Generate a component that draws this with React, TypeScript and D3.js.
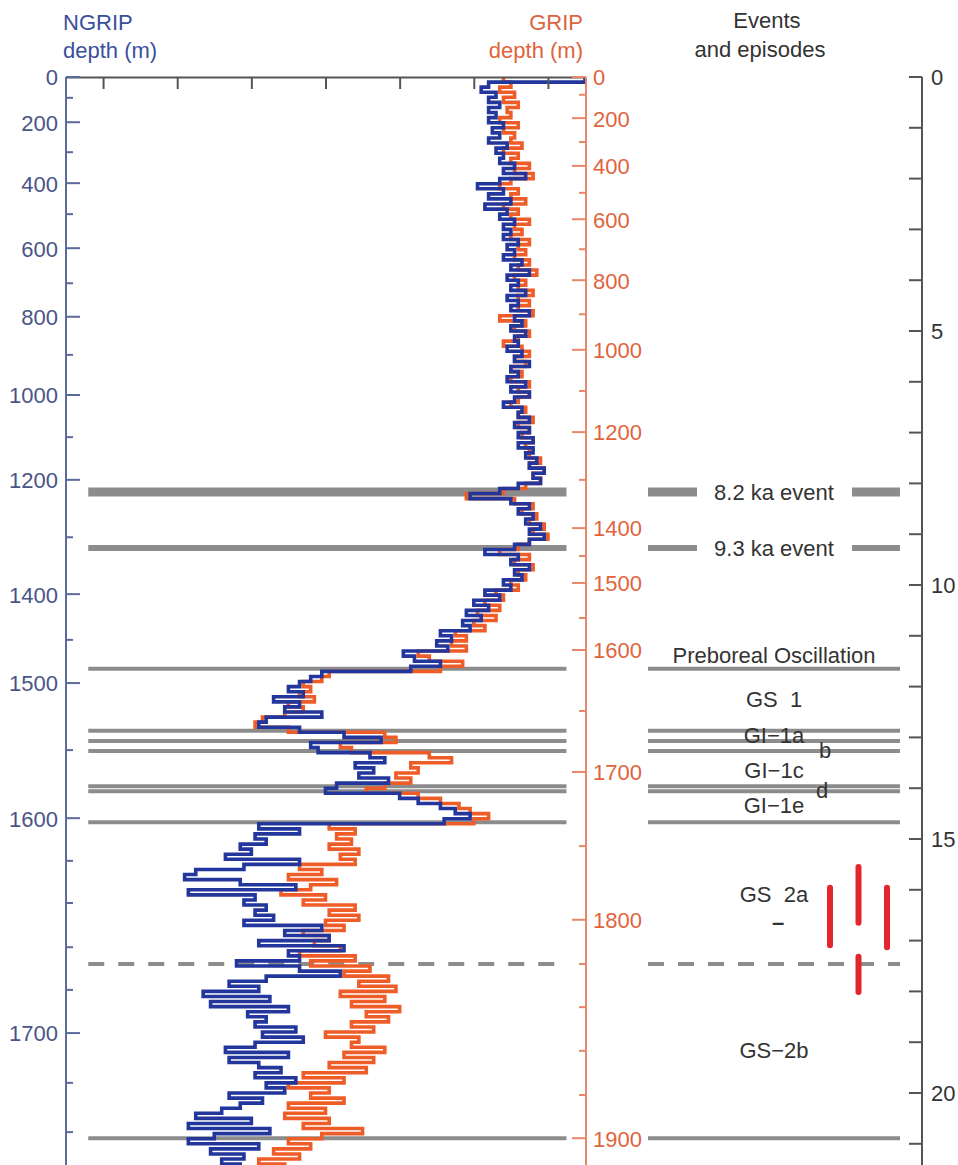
import React, { useEffect, useRef } from "react";
import * as d3 from "d3";

// step width of both records (ka)
const stepKa = 0.1;

// NGRIP d18O (permil), one value per 0.1 ka step from 0 ka
const ngripD18O = [
  -33.0, -35.6, -35.8, -35.4, -35.6, -35.3, -35.6, -35.4, -35.6, -35.2,
  -35.5, -35.3, -35.6, -35.1, -35.4, -35.2, -35.3, -34.9, -35.2, -34.6,
  -35.3, -35.9, -35.2, -35.6, -35.0, -35.7, -35.1, -35.3, -34.9, -35.2,
  -35.0, -35.2, -34.8, -35.1, -34.9, -35.2, -34.7, -35.0, -34.5, -35.1,
  -34.8, -35.0, -34.6, -35.1, -34.8, -35.0, -34.5, -34.9, -34.7, -35.0,
  -34.6, -34.9, -34.8, -35.1, -34.7, -34.9, -34.5, -35.0, -34.8, -35.1,
  -34.6, -35.0, -34.5, -34.9, -35.2, -34.7, -34.8, -34.5, -34.9, -34.5,
  -34.8, -34.4, -34.8, -34.4, -34.6, -34.3, -34.5, -34.1, -34.4, -34.2,
  -34.8, -35.3, -36.1, -35.0, -34.5, -34.8, -34.4, -34.6, -34.2, -34.5,
  -34.1, -34.5, -34.9, -35.7, -34.8, -35.0, -34.5, -34.9, -34.7, -35.2,
  -35.0, -35.7, -35.3, -36.0, -35.6, -36.2, -35.8, -36.3, -36.1, -36.9,
  -36.6, -37.0, -36.7, -37.9, -37.6, -36.9, -37.7, -40.1, -40.4, -40.7,
  -41.0, -40.6, -41.4, -40.7, -41.1, -40.1, -41.6, -41.8, -40.7, -39.5,
  -38.5, -40.4, -40.2, -38.8, -38.4, -39.2, -38.7, -39.1, -38.3, -39.7,
  -40.0, -38.0, -37.5, -36.9, -36.5, -36.1, -36.8, -41.8, -40.7, -41.9,
  -41.6, -42.3, -42.0, -42.7, -40.7, -42.2, -43.5, -43.8, -42.3, -40.8,
  -43.7, -41.9, -42.2, -41.6, -41.9, -41.4, -42.2, -40.1, -41.1, -39.9,
  -41.8, -39.5, -41.0, -40.7, -42.4, -40.7, -39.6, -41.6, -42.6, -41.8,
  -43.3, -41.5, -43.1, -41.0, -42.1, -41.6, -41.9, -40.8, -41.7, -40.6,
  -41.9, -42.7, -41.0, -42.6, -41.8, -41.2, -41.9, -40.8, -41.6, -41.1,
  -42.6, -41.7, -42.3, -42.8, -43.5, -42.0, -43.7, -41.5, -43.0, -43.7,
  -41.8, -43.1, -42.2, -42.8, -42.3,
];

// GRIP d18O (permil), same steps
const gripD18O = [
  -35.2, -35.0, -35.3, -34.9, -35.2, -34.8, -35.1, -35.0, -35.3, -34.8,
  -35.2, -34.9, -35.0, -34.7, -35.2, -34.8, -35.0, -34.5, -34.9, -34.4,
  -35.0, -35.3, -34.8, -35.0, -34.6, -35.2, -34.8, -35.0, -34.5, -34.9,
  -34.7, -35.0, -34.5, -34.8, -34.6, -34.9, -34.5, -34.8, -34.3, -34.9,
  -34.6, -34.8, -34.4, -34.8, -34.5, -34.8, -34.4, -35.3, -34.6, -34.9,
  -34.5, -34.8, -35.2, -34.7, -34.5, -34.9, -34.6, -35.0, -34.7, -35.0,
  -34.5, -34.8, -34.5, -34.8, -35.0, -34.6, -34.8, -34.4, -34.8, -34.5,
  -34.7, -34.4, -34.6, -34.5, -34.5, -34.2, -34.5, -34.1, -34.4, -34.2,
  -34.6, -35.2, -36.2, -34.9, -34.4, -34.7, -34.3, -34.5, -34.1, -34.4,
  -34.0, -34.5, -34.8, -35.3, -34.5, -34.9, -34.4, -34.8, -34.6, -35.0,
  -34.8, -35.4, -35.2, -35.7, -35.3, -35.9, -35.4, -36.0, -35.7, -36.5,
  -36.2, -36.6, -36.2, -37.5, -37.2, -36.3, -36.9, -39.9, -40.1, -40.6,
  -40.4, -40.7, -40.3, -41.0, -40.6, -41.1, -41.7, -41.9, -41.0, -38.4,
  -38.1, -39.6, -39.3, -37.2, -36.6, -37.7, -37.5, -38.1, -37.7, -38.4,
  -38.9, -37.5, -36.9, -36.4, -36.1, -35.6, -36.0, -39.9, -39.2, -39.7,
  -39.3, -39.9, -39.1, -39.6, -39.2, -40.7, -40.1, -41.0, -39.7, -40.4,
  -41.2, -40.0, -40.6, -39.2, -39.9, -39.1, -40.0, -39.5, -40.6, -39.9,
  -40.3, -39.6, -40.7, -39.2, -40.4, -38.8, -39.5, -38.3, -39.1, -38.1,
  -39.6, -38.4, -39.3, -38.0, -38.9, -38.3, -39.3, -38.7, -40.0, -39.1,
  -39.3, -38.4, -39.5, -38.7, -39.9, -38.9, -40.6, -39.5, -41.0, -39.9,
  -40.4, -39.5, -41.0, -40.0, -41.1, -39.9, -40.6, -39.0, -40.1, -41.0,
  -40.4, -41.4, -40.7, -41.8, -41.1,
];

// depth scales (depth in m -> age in ka b2k)
const ngripDepthLabels = [0, 200, 400, 600, 800, 1000, 1200, 1400, 1500, 1600, 1700];
const ngripDepthLabelAges = [0, 0.89, 2.09, 3.37, 4.72, 6.26, 7.93, 10.18, 11.93, 14.59, 18.82];
const ngripDepthMinor = [100, 300, 500, 700, 900, 1100, 1300, 1450, 1550, 1620, 1640, 1660, 1680, 1720, 1740];
const ngripDepthMinorAges = [0.41, 1.48, 2.7, 4.06, 5.47, 7.09, 9.06, 11.08, 13.25, 15.43, 16.26, 17.13, 17.97, 19.8, 20.77];

const gripDepthLabels = [0, 200, 400, 600, 800, 1000, 1200, 1400, 1500, 1600, 1700, 1800, 1900];
const gripDepthLabelAges = [0, 0.81, 1.75, 2.8, 4.0, 5.37, 6.99, 8.88, 9.96, 11.28, 13.68, 16.59, 20.89];
const gripDepthMinor = [100, 300, 500, 700, 900, 1100, 1300, 1450, 1550, 1650, 1750, 1820, 1840, 1860, 1880];
const gripDepthMinorAges = [0.35, 1.28, 2.28, 3.39, 4.67, 6.18, 7.93, 9.43, 10.65, 12.48, 15.14, 17.46, 18.31, 19.17, 20.04];

// age axis (ka)
const ageTicks = d3.range(0, 22);
const ageLabels = [0, 5, 10, 15, 20];

// event / episode boundaries (ka)
const eventNames = ["8.2 ka", "9.3 ka", "YD end", "GS-1", "GI-1b", "GI-1c", "GI-1d top", "GI-1d base", "GI-1e", "GS-2a/b", "GS-2b"];
const eventAges = [8.17, 9.27, 11.65, 12.87, 13.07, 13.27, 13.96, 14.06, 14.67, 17.46, 20.89];

const episodeLabels = ["Preboreal Oscillation", "GS  1", "GI\u22121a", "b", "GI\u22121c", "d", "GI\u22121e", "GS  2a", "\u2013", "GS\u22122b"];
const episodeLabelAges = [11.53, 12.4, 13.11, 13.4, 13.8, 14.2, 14.49, 16.24, 16.79, 19.31];

// red age bars (ka)
const redBarColumn = ["a", "b", "c", "b"];
const redBarFrom = [15.96, 15.55, 15.96, 17.32];
const redBarTo = [17.09, 16.65, 17.13, 18.01];

const W = 958;
const H = 1165;
const FONT = "'Liberation Sans', Arial, Helvetica, sans-serif";

export default function App() {
  const ref = useRef<SVGSVGElement | null>(null);

  useEffect(() => {
    const svg = d3.select(ref.current);
    svg.selectAll("*").remove();

    const y = d3.scaleLinear().domain([0, 20]).range([77, 1093]);
    const x = d3.scaleLinear().domain([-47, -33]).range([66, 585]);
    const ageEnd = 21.6;
    const gray = "#8c8c8c";
    const blue = "#22369c";
    const orange = "#ee5d28";

    const leftPanel = [x(-46.4), x(-33.5)];
    const rightPanel = [648, 900];
    const labelX = 774;

    // event lines
    const lineWidth = (name: string) => (name === "8.2 ka" ? 9 : name === "9.3 ka" ? 6 : 4);
    const ev = svg.append("g");
    eventAges.forEach((a, i) => {
      const name = eventNames[i];
      const dash = name === "GS-2a/b" ? "16,14" : null;
      const segs: number[][] = [leftPanel];
      if (name === "8.2 ka" || name === "9.3 ka") {
        segs.push([rightPanel[0], 697], [852, rightPanel[1]]);
      } else {
        segs.push(rightPanel);
      }
      segs.forEach((s) => {
        ev.append("line")
          .attr("x1", s[0])
          .attr("x2", s[1])
          .attr("y1", y(a))
          .attr("y2", y(a))
          .attr("stroke", gray)
          .attr("stroke-width", lineWidth(name))
          .attr("stroke-dasharray", dash);
      });
      if (name === "8.2 ka" || name === "9.3 ka") {
        ev.append("text")
          .attr("x", labelX)
          .attr("y", y(a))
          .attr("dy", "0.36em")
          .attr("text-anchor", "middle")
          .attr("font-family", FONT)
          .attr("font-size", 22)
          .attr("fill", "#333")
          .text(`${name} event`);
      }
    });

    // episode labels
    svg.append("g")
      .selectAll("text")
      .data(episodeLabels)
      .join("text")
      .attr("x", (d) => (d === "b" ? 825 : d === "d" ? 822 : d === "\u2013" ? 778 : labelX))
      .attr("y", (d, i) => y(episodeLabelAges[i]))
      .attr("text-anchor", "middle")
      .attr("font-family", FONT)
      .attr("font-size", 22)
      .attr("font-weight", (d) => (d === "\u2013" ? "bold" : null))
      .attr("fill", "#333")
      .style("white-space", "pre")
      .text((d) => d);

    // red bars
    const col = d3.scalePoint().domain(["a", "b", "c"]).range([830, 887]);
    svg.append("g")
      .selectAll("line")
      .data(redBarColumn)
      .join("line")
      .attr("x1", (d) => col(d) as number)
      .attr("x2", (d) => col(d) as number)
      .attr("y1", (d, i) => y(redBarFrom[i]))
      .attr("y2", (d, i) => y(redBarTo[i]))
      .attr("stroke", "#e3262e")
      .attr("stroke-width", 6)
      .attr("stroke-linecap", "round");

    // stepped records
    const stepped = (vals: number[]) => {
      const pts = vals.map((v, i) => [v, i * stepKa]);
      pts.push([vals[vals.length - 1], vals.length * stepKa]);
      return d3
        .line<number[]>()
        .x((d) => x(d[0]))
        .y((d) => y(d[1]))
        .curve(d3.curveStepBefore)(pts);
    };

    svg.append("path")
      .attr("d", stepped(gripD18O))
      .attr("fill", "none")
      .attr("stroke", orange)
      .attr("stroke-width", 3.6);

    svg.append("path")
      .attr("d", stepped(ngripD18O))
      .attr("fill", "none")
      .attr("stroke", blue)
      .attr("stroke-width", 3.6);

    // top axis
    const top = svg.append("g").attr("transform", `translate(0,${y(0)})`);
    top.call(
      d3
        .axisBottom(x)
        .tickValues([-46, -44, -42, -40, -38, -36, -34])
        .tickFormat(() => "")
        .tickSizeInner(12)
        .tickSizeOuter(0)
    );
    top.selectAll("path, line").attr("stroke", "#555").attr("stroke-width", 2);

    // NGRIP depth axis
    const ng = svg.append("g").attr("transform", `translate(${x.range()[0]},0)`);
    ng.append("line").attr("y1", y(0)).attr("y2", H).attr("stroke", "#5d6a9c").attr("stroke-width", 2);
    ngripDepthLabelAges.forEach((a, i) => {
      ng.append("line").attr("x1", 0).attr("x2", 14).attr("y1", y(a)).attr("y2", y(a)).attr("stroke", "#5d6a9c").attr("stroke-width", 2);
      ng.append("text")
        .attr("x", -8)
        .attr("y", y(a))
        .attr("dy", "0.38em")
        .attr("text-anchor", "end")
        .attr("font-family", FONT)
        .attr("font-size", 22)
        .attr("fill", "#4a5587")
        .text(ngripDepthLabels[i]);
    });
    ngripDepthMinorAges.forEach((a) => {
      ng.append("line").attr("x1", 0).attr("x2", 7).attr("y1", y(a)).attr("y2", y(a)).attr("stroke", "#5d6a9c").attr("stroke-width", 2);
    });

    // GRIP depth axis
    const gr = svg.append("g").attr("transform", `translate(${x.range()[1] + 1},0)`);
    gr.append("line").attr("y1", y(0)).attr("y2", H).attr("stroke", "#e8866a").attr("stroke-width", 2);
    gripDepthLabelAges.forEach((a, i) => {
      gr.append("line").attr("x1", -14).attr("x2", 0).attr("y1", y(a)).attr("y2", y(a)).attr("stroke", "#e8866a").attr("stroke-width", 2);
      gr.append("text")
        .attr("x", 7)
        .attr("y", y(a))
        .attr("dy", "0.38em")
        .attr("font-family", FONT)
        .attr("font-size", 22)
        .attr("fill", "#e0643c")
        .text(gripDepthLabels[i]);
    });
    gripDepthMinorAges.forEach((a) => {
      gr.append("line").attr("x1", -7).attr("x2", 0).attr("y1", y(a)).attr("y2", y(a)).attr("stroke", "#e8866a").attr("stroke-width", 2);
    });

    // age axis (right)
    const ag = svg.append("g").attr("transform", "translate(922,0)");
    ag.append("line").attr("y1", y(0)).attr("y2", H).attr("stroke", "#555").attr("stroke-width", 2);
    ag.selectAll("line.tick")
      .data(ageTicks.filter((t) => t <= ageEnd))
      .join("line")
      .attr("class", "tick")
      .attr("x1", -13)
      .attr("x2", 0)
      .attr("y1", (d) => y(d))
      .attr("y2", (d) => y(d))
      .attr("stroke", "#555")
      .attr("stroke-width", 2);
    ag.selectAll("text")
      .data(ageLabels)
      .join("text")
      .attr("x", 9)
      .attr("y", (d) => y(d))
      .attr("dy", "0.38em")
      .attr("font-family", FONT)
      .attr("font-size", 22)
      .attr("fill", "#333")
      .text((d) => d);

    // titles
    const title = (txt: string, tx: number, ty: number, anchor: string, fill: string) =>
      svg.append("text")
        .attr("x", tx)
        .attr("y", ty)
        .attr("text-anchor", anchor)
        .attr("font-family", FONT)
        .attr("font-size", 22)
        .attr("fill", fill)
        .text(txt);
    title("NGRIP", 63, 30, "start", "#3b4f9c");
    title("depth (m)", 63, 58, "start", "#3b4f9c");
    title("GRIP", 583, 30, "end", "#d9643f");
    title("depth (m)", 583, 58, "end", "#e0643c");
    title("Events", 767, 28, "middle", "#333");
    title("and episodes", 760, 57, "middle", "#333");
  }, []);

  return (
    <svg
      ref={ref}
      width={W}
      height={H}
      style={{ position: "absolute", left: 0, top: 0, background: "#fff" }}
    />
  );
}
